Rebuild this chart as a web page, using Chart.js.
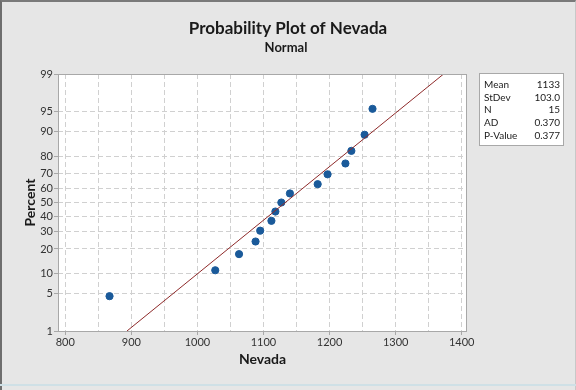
<!DOCTYPE html>
<html>
<head>
<meta charset="utf-8">
<script src="https://cdn.jsdelivr.net/npm/chart.js@4/dist/chart.umd.min.js"></script>
<style>
  html, body { margin: 0; padding: 0; background: #fff; }
  #wrap {
    position: relative; width: 576px; height: 390px; box-sizing: border-box;
    background: #e6e6e6;
    border-top: 2px solid #7a7a7a; border-left: 2px solid #6e6e6e;
    border-right: 1px solid #c8c8c8;
  }
  #bottomline { position: absolute; left: 0; top: 384px; width: 576px; height: 2px; background: #cfe0e6; }
  canvas { position: absolute; left: 0; top: 0; }
</style>
</head>
<body>
<div id="wrap"></div>
<div id="bottomline"></div>
<canvas id="chart" width="576" height="390"></canvas>
<script>
// Nevada sample
const nevada = [867, 1027, 1063, 1088, 1095, 1112, 1118, 1127, 1140, 1182, 1197, 1224, 1233, 1253, 1265];
const percents = [4.5, 11.0, 17.5, 24.0, 30.5, 37.0, 43.5, 50.0, 56.5, 63.0, 69.5, 76.0, 82.5, 89.0, 95.5];
const percentTicks = [1, 5, 10, 20, 30, 40, 50, 60, 70, 80, 90, 95, 99];
const statLabels = ["Mean", "StDev", "N", "AD", "P-Value"];
const statValues = ["1133", "103.0", "15", "0.370", "0.377"];
const fitMean = 1133;
const fitStDev = 103.0;

const FONT = "Lato, 'Open Sans', sans-serif";

// inverse normal cdf (Acklam)
const normInv = p => {
  const a = [-39.69683028665376, 220.9460984245205, -275.9285104469687, 138.3577518672690, -30.66479806614716, 2.506628277459239];
  const b = [-54.47609879822406, 161.5858368580409, -155.6989798598866, 66.80131188771972, -13.28068155288572];
  const c = [-0.007784894002430293, -0.3223964580411365, -2.400758277161838, -2.549732539343734, 4.374664141464968, 2.938163982698783];
  const d = [0.007784695709041462, 0.3224671290700398, 2.445134137142996, 3.754408661907416];
  const lo = 0.02425, hi = 1 - lo;
  let q, r;
  if (p < lo) {
    q = Math.sqrt(-2 * Math.log(p));
    return (((((c[0]*q+c[1])*q+c[2])*q+c[3])*q+c[4])*q+c[5]) / ((((d[0]*q+d[1])*q+d[2])*q+d[3])*q+1);
  }
  if (p > hi) {
    q = Math.sqrt(-2 * Math.log(1 - p));
    return -(((((c[0]*q+c[1])*q+c[2])*q+c[3])*q+c[4])*q+c[5]) / ((((d[0]*q+d[1])*q+d[2])*q+d[3])*q+1);
  }
  q = p - 0.5; r = q * q;
  return (((((a[0]*r+a[1])*r+a[2])*r+a[3])*r+a[4])*r+a[5])*q / (((((b[0]*r+b[1])*r+b[2])*r+b[3])*r+b[4])*r+1);
};

const zTop = normInv(0.99);
const zBottom = normInv(0.01);

const points = nevada.map((x, i) => ({ x: x, y: normInv(percents[i] / 100) }));
// fitted normal line across the plotted range
const fitLine = [
  { x: fitMean + fitStDev * zBottom, y: zBottom },
  { x: fitMean + fitStDev * zTop, y: zTop },
];

const decorPlugin = {
  id: "decor",
  beforeDraw(chart) {
    const { ctx, chartArea: a } = chart;
    ctx.save();
    ctx.fillStyle = "#ffffff";
    ctx.fillRect(a.left, a.top, a.right - a.left, a.bottom - a.top);
    ctx.restore();
  },
  afterDraw(chart) {
    const { ctx, chartArea: a } = chart;
    ctx.save();
    // plot frame
    ctx.strokeStyle = "#a8a8a8";
    ctx.lineWidth = 1;
    ctx.strokeRect(a.left + 0.5, a.top + 0.5, a.right - a.left - 1, a.bottom - a.top);

    // titles
    ctx.fillStyle = "#1a1a1a";
    ctx.textAlign = "center";
    ctx.textBaseline = "middle";
    ctx.font = "bold 17px " + FONT;
    ctx.fillText("Probability Plot of Nevada", 288, 29);
    ctx.font = "bold 13px " + FONT;
    ctx.fillText("Normal", 286, 48);

    // stats box
    const bx = 479, by = 73, bw = 85, bh = 73;
    ctx.fillStyle = "#ffffff";
    ctx.fillRect(bx, by, bw, bh);
    ctx.strokeStyle = "#a8a8a8";
    ctx.strokeRect(bx + 0.5, by + 0.5, bw - 1, bh - 1);
    ctx.fillStyle = "#1a1a1a";
    ctx.font = "10px " + FONT;
    statLabels.forEach((lab, i) => {
      const y = by + 12 + i * 12.6;
      ctx.textAlign = "left";
      ctx.fillText(lab, bx + 5, y);
      ctx.textAlign = "right";
      ctx.fillText(statValues[i], bx + bw - 4, y);
    });
    ctx.restore();
  }
};

new Chart(document.getElementById("chart"), {
  type: "scatter",
  data: {
    datasets: [
      {
        label: "Fit",
        type: "line",
        data: fitLine,
        borderColor: "#8e2a2a",
        borderWidth: 1,
        pointRadius: 0,
        fill: false,
        tension: 0,
      },
      {
        label: "Nevada",
        data: points,
        backgroundColor: "#1a5a9a",
        borderColor: "#1a5a9a",
        pointRadius: 3.6,
      },
    ],
  },
  options: {
    responsive: false,
    animation: false,
    layout: { padding: { left: 0, right: 109, top: 74, bottom: 0 } },
    plugins: {
      legend: { display: false },
      tooltip: { enabled: false },
      title: { display: false },
    },
    scales: {
      x: {
        type: "linear",
        min: 789,
        max: 1408,
        afterBuildTicks: scale => {
          const t = [];
          for (let v = 800; v <= 1400; v += 50) t.push({ value: v });
          scale.ticks = t;
        },
        afterFit: scale => { scale.height = 59; },
        ticks: {
          autoSkip: false,
          maxRotation: 0,
          padding: 1,
          color: "#333",
          font: { family: FONT, size: 11 },
          callback: v => (v % 100 === 0 ? v : ""),
        },
        grid: {
          color: "#d0d0d0",
          tickColor: ctx => (ctx.tick && ctx.tick.value % 100 === 0 ? "#a8a8a8" : "rgba(0,0,0,0)"),
          tickLength: 4,
        },
        border: { display: false, dash: [5, 3] },
        title: {
          display: true,
          text: "Nevada",
          color: "#1a1a1a",
          font: { family: FONT, size: 14, weight: "bold" },
          padding: { top: 0, bottom: 22 },
        },
      },
      y: {
        type: "linear",
        min: zBottom,
        max: zTop,
        afterBuildTicks: scale => {
          scale.ticks = percentTicks.map(p => ({ value: normInv(p / 100) }));
        },
        afterFit: scale => { scale.width = 58; },
        ticks: {
          autoSkip: false,
          padding: 1,
          color: "#333",
          font: { family: FONT, size: 11 },
          callback: (v, i) => percentTicks[i],
        },
        grid: {
          color: "#d0d0d0",
          tickColor: "#a8a8a8",
          tickLength: 4,
        },
        border: { display: false, dash: [5, 3] },
        title: {
          display: true,
          text: "Percent",
          color: "#1a1a1a",
          font: { family: FONT, size: 14, weight: "bold" },
          padding: { top: 22, bottom: 0 },
        },
      },
    },
  },
  plugins: [decorPlugin],
});
</script>
</body>
</html>
